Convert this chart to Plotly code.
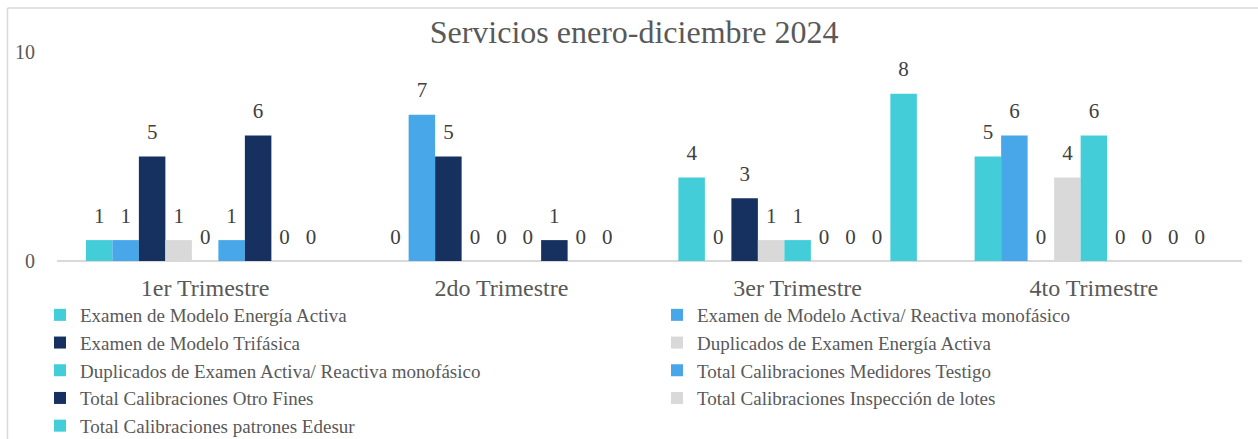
import plotly.graph_objects as go

categories = ["1er Trimestre", "2do Trimestre", "3er Trimestre", "4to Trimestre"]
series_names = [
    "Examen de Modelo Energía Activa",
    "Examen de Modelo Activa/ Reactiva monofásico",
    "Examen de Modelo Trifásica",
    "Duplicados de Examen Energía Activa",
    "Duplicados de Examen Activa/ Reactiva monofásico",
    "Total Calibraciones Medidores Testigo",
    "Total Calibraciones Otro Fines",
    "Total Calibraciones Inspección de lotes",
    "Total Calibraciones patrones Edesur",
]
s1 = [1, 0, 4, 5]
s2 = [1, 7, 0, 6]
s3 = [5, 5, 3, 0]
s4 = [1, 0, 1, 4]
s5 = [0, 0, 1, 6]
s6 = [1, 0, 0, 0]
s7 = [6, 1, 0, 0]
s8 = [0, 0, 0, 0]
s9 = [0, 0, 8, 0]
series_values = [s1, s2, s3, s4, s5, s6, s7, s8, s9]
colors = ["#42CDD9", "#48A7E8", "#16305F", "#D9D9D9"] * 3

W, H = 1258, 439
ml, mr, mt, mb = 57, 16, 52, 178
pw, ph = W - ml - mr, H - mt - mb
font = "Liberation Serif, Times New Roman, serif"
GAP = 0.195

fig = go.Figure()
for i, (name, vals, col) in enumerate(zip(series_names, series_values, colors)):
    fig.add_trace(go.Bar(
        x=categories, y=vals, name=name, marker_color=col,
        marker_line_width=0, offsetgroup=str(i), legendgroup=str(i),
    ))
for i, (name, vals) in enumerate(zip(series_names, series_values)):
    fig.add_trace(go.Scatter(
        x=categories, y=vals, mode="markers+text", name=name,
        text=[str(v) for v in vals], textposition="top center",
        marker=dict(size=18, opacity=0), offsetgroup=str(i), legendgroup=str(i),
        textfont=dict(family=font, size=21, color="#404040"),
        showlegend=False, hoverinfo="skip", cliponaxis=False,
    ))

fig.update_layout(
    width=W, height=H,
    margin=dict(l=ml, r=mr, t=mt, b=mb, autoexpand=False),
    paper_bgcolor="white", plot_bgcolor="white",
    barmode="group", bargap=GAP, bargroupgap=0,
    scattermode="group", scattergap=GAP,
    title=dict(text="Servicios enero-diciembre 2024", x=(634 - ml) / pw, xref="paper",
               xanchor="center", y=1 - 32 / H, yanchor="middle",
               font=dict(family=font, size=32, color="#595959")),
    font=dict(family=font, color="#595959"),
    showlegend=True,
    legend=dict(orientation="h", x=(40 - ml) / pw, xanchor="left",
                y=-(296 - (mt + ph)) / ph, yanchor="top",
                entrywidth=572, entrywidthmode="pixels",
                font=dict(family=font, size=19, color="#595959"),
                itemwidth=30, tracegroupgap=0, bgcolor="rgba(0,0,0,0)"),
    xaxis=dict(showline=False, ticks="", tickfont=dict(family=font, size=24, color="#595959"),
               ticklabelstandoff=10),
    yaxis=dict(range=[0, 10], tickvals=[0, 10], showgrid=True, gridcolor="#D9D9D9",
               gridwidth=1.5, zeroline=True, zerolinecolor="#D9D9D9", zerolinewidth=1.5,
               showline=False, ticks="", tickfont=dict(family=font, size=20, color="#595959"),
               ticklabelstandoff=21),
    shapes=[
        dict(type="line", xref="paper", yref="paper",
             x0=(7.5 - ml) / pw, x1=(W + 5 - ml) / pw,
             y0=1 + (mt - 8) / ph, y1=1 + (mt - 8) / ph,
             line=dict(color="#D9D9D9", width=1.5)),
        dict(type="line", xref="paper", yref="paper",
             x0=(7.5 - ml) / pw, x1=(7.5 - ml) / pw,
             y0=1 + (mt - 8) / ph, y1=-(H + 5 - mt - ph) / ph,
             line=dict(color="#D9D9D9", width=1.5)),
    ],
)
fig.write_html("out.html", config={"displayModeBar": False})
with open("out.html", encoding="utf-8") as f:
    html = f.read()
html = html.replace("<head>", "<head><style>html,body{margin:0;padding:0;overflow:hidden;}</style>", 1)
with open("out.html", "w", encoding="utf-8") as f:
    f.write(html)
